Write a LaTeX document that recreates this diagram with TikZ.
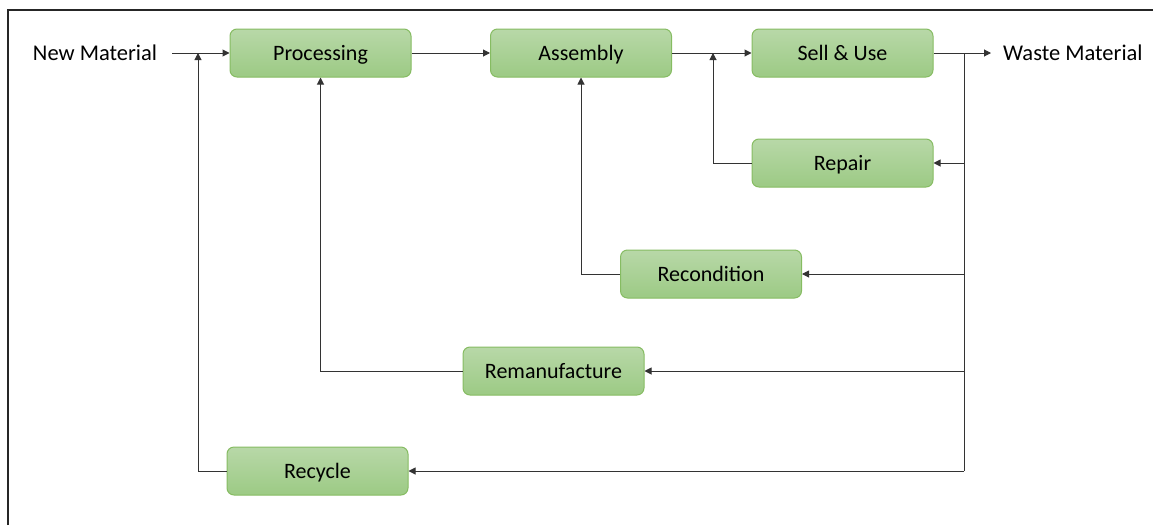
\documentclass[tikz,border=0pt]{standalone}
\usepackage{fontspec}
\setmainfont{Carlito}
\usetikzlibrary{arrows.meta}
\definecolor{boxtop}{HTML}{B8D8A8}
\definecolor{boxbot}{HTML}{9CCA84}
\definecolor{boxline}{HTML}{86BC62}
\definecolor{wire}{HTML}{333333}
\tikzset{
  stage/.style={rectangle, rounded corners=7pt, draw=boxline, line width=1pt,
    top color=boxtop, bottom color=boxbot, minimum width=181pt, minimum height=48pt,
    inner sep=0pt, text height=19pt, text depth=4pt,
    font=\fontsize{22}{26}\selectfont, text=black},
  label/.style={font=\fontsize{22.5}{27}\selectfont, inner sep=0pt,
    text height=19pt, text depth=4pt, text=black},
  flow/.style={draw=wire, line width=1pt, -{Triangle[length=7pt,width=7pt]}},
  plain/.style={draw=wire, line width=1pt}
}
\begin{document}
\begin{tikzpicture}[x=1pt,y=-1pt]
\useasboundingbox (0,0) rectangle (1153,525);
% outer frame (left and top edges)
\draw[line width=2pt, black!85] (8,525) -- (8,10) -- (1153,10);

% main line
\node[label] (new) at (95,53) {New Material};
\node[stage] (proc) at (320.5,53) {Processing};
\node[stage] (asm)  at (581,53) {Assembly};
\node[stage] (sell) at (842.5,53) {Sell \& Use};
\node[label, anchor=west] (waste) at (1003,53) {Waste Material};

% recovery loops
\node[stage] (rep) at (842.5,163) {Repair};
\node[stage] (rec) at (711,274) {Recondition};
\node[stage] (rem) at (553.5,371) {Remanufacture};
\node[stage] (cyc) at (317.5,471) {Recycle};

% junctions and free ends
\coordinate (nstart) at (172,53);
\coordinate (wend) at (991,53);
\coordinate (jn) at (198,53);
\coordinate (ja) at (713,53);
\coordinate (trunk) at (964,53);
\coordinate (tb) at (964,471);

\draw[flow] (nstart) -- (proc.west);
\draw[flow] (proc.east) -- (asm.west);
\draw[flow] (asm.east) -- (sell.west);
\draw[flow] (sell.east) -- (wend);
\draw[plain] (trunk) -- (tb);

\draw[flow] (trunk |- rep) -- (rep.east);
\draw[flow] (trunk |- rec) -- (rec.east);
\draw[flow] (trunk |- rem) -- (rem.east);
\draw[flow] (tb) -- (cyc.east);

\draw[flow] (rep.west) -| (ja);
\draw[flow] (rec.west) -| (asm.south);
\draw[flow] (rem.west) -| (proc.south);
\draw[flow] (cyc.west) -| (jn);
\end{tikzpicture}
\end{document}
